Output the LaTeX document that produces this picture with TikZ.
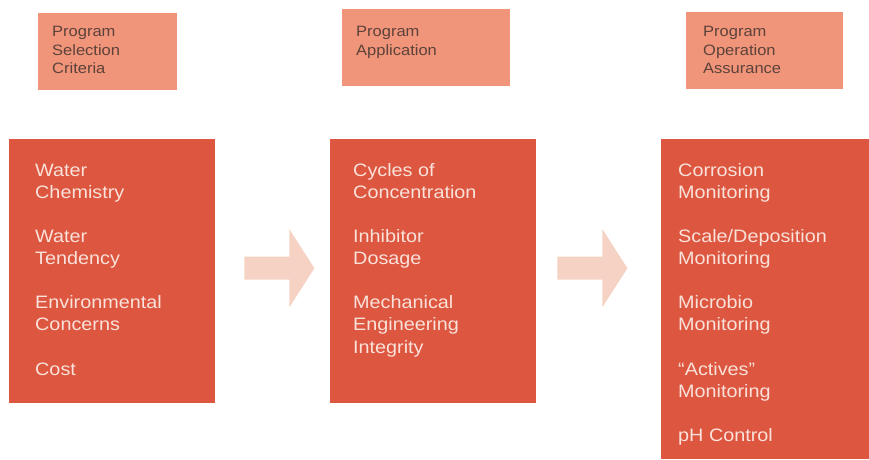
\documentclass[tikz,border=0pt]{standalone}
\usepackage{fontspec}
\setmainfont{Liberation Sans}[FakeStretch=1.1]
\usetikzlibrary{calc}
\definecolor{topfill}{RGB}{240,149,122}
\definecolor{bigfill}{RGB}{220,86,64}
\definecolor{arrowfill}{RGB}{245,210,195}
\definecolor{toptext}{RGB}{92,66,58}
\definecolor{bigtext}{RGB}{250,226,218}
\tikzset{
  x=1pt, y=-1pt,
  topbox/.style={fill=topfill, draw=none, anchor=north west, inner sep=0pt},
  bigbox/.style={fill=bigfill, draw=none, anchor=north west, inner sep=0pt},
  toplabel/.style={anchor=north west, inner sep=0pt, align=left, text=toptext,
    font=\fontsize{15}{18.3}\selectfont},
  biglabel/.style={anchor=north west, inner sep=0pt, align=left, text=bigtext,
    font=\fontsize{18}{22.1}\selectfont},
  blockarrow/.style={fill=arrowfill, draw=none}
}
\newcommand{\topstrut}{\rule{0pt}{12pt}}
\newcommand{\bigstrut}{\rule{0pt}{14pt}}
\begin{document}
\begin{tikzpicture}
\useasboundingbox (0,0) rectangle (869,459);
% top boxes
\node[topbox, minimum width=139pt, minimum height=77pt] (t1) at (38,13) {};
\node[topbox, minimum width=168pt, minimum height=77pt] (t2) at (342,9) {};
\node[topbox, minimum width=157pt, minimum height=77pt] (t3) at (686,12) {};
\node[toplabel] (t1l) at (52,24.7) {\topstrut Program\\Selection\\Criteria};
\node[toplabel] (t2l) at (356,24.7) {\topstrut Program\\Application};
\node[toplabel] (t3l) at (703,24.7) {\topstrut Program\\Operation\\Assurance};
% big boxes
\node[bigbox, minimum width=206pt, minimum height=264pt] (b1) at (9,139) {};
\node[bigbox, minimum width=206pt, minimum height=264pt] (b2) at (330,139) {};
\node[bigbox, minimum width=208pt, minimum height=320pt] (b3) at (661,139) {};
\node[biglabel] (b1l) at (35,162) {\bigstrut Water\\Chemistry\\[22.1pt]Water\\Tendency\\[22.1pt]Environmental\\Concerns\\[22.1pt]Cost};
\node[biglabel] (b2l) at (353,162) {\bigstrut Cycles of\\Concentration\\[22.1pt]Inhibitor\\Dosage\\[22.1pt]Mechanical\\Engineering\\Integrity};
\node[biglabel] (b3l) at (678,162) {\bigstrut Corrosion\\Monitoring\\[22.1pt]Scale/Deposition\\Monitoring\\[22.1pt]Microbio\\Monitoring\\[22.1pt]\textquotedblleft Actives\textquotedblright\\Monitoring\\[22.1pt]pH Control};
% block arrows
\coordinate (a1) at ($(b1.east)+(29,-3)$);
\coordinate (a2) at ($(b2.east)+(21,-3)$);
\foreach \s in {a1,a2}{
  \fill[blockarrow] (\s) ++(0,-11.5) -- ++(45,0) -- ++(0,-27.5) -- ++(25,39)
    -- ++(-25,39) -- ++(0,-27.5) -- ++(-45,0) -- cycle;
}
\end{tikzpicture}
\end{document}
